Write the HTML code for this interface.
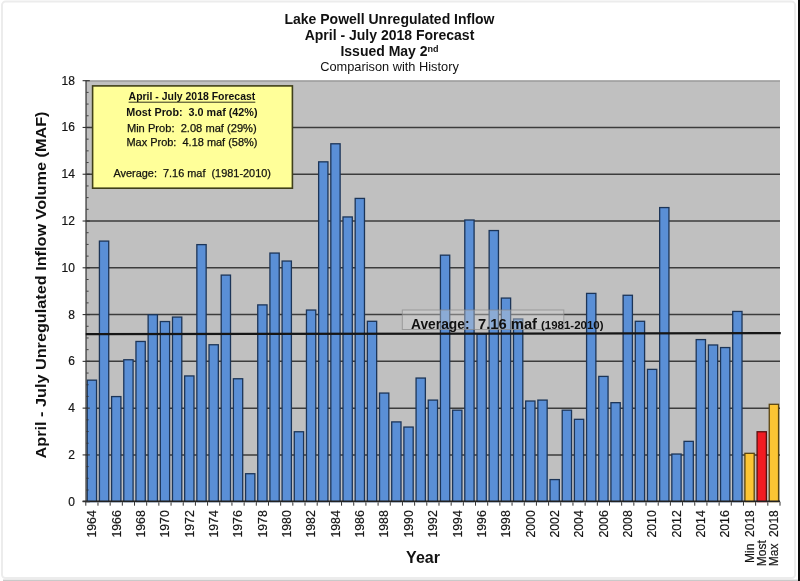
<!DOCTYPE html>
<html lang="en"><head><meta charset="utf-8"><title>Lake Powell Unregulated Inflow</title>
<style>
html,body{margin:0;padding:0;background:#fff;}
body{width:800px;height:581px;overflow:hidden;position:relative;font-family:"Liberation Sans",Arial,sans-serif;}
svg{display:block;position:absolute;left:-6px;top:-6px;filter:blur(0.45px);}
text{font-family:"Liberation Sans",Arial,sans-serif;fill:#111;}
.b{font-weight:bold;}
</style></head><body>
<svg width="812" height="593" viewBox="-6 -6 812 593">
<rect x="-6" y="-6" width="812" height="593" fill="#ffffff"/>
<!-- outer frame -->
<rect x="2" y="1.6" width="793.1" height="576.4" rx="3.5" ry="3.5" fill="none" stroke="#ececec" stroke-width="2"/>
<rect x="3" y="579.6" width="795" height="8" fill="#c9c9c9"/>
<rect x="798" y="-6" width="8" height="593" fill="#0a0a0a"/>

<rect x="85.30" y="80.1" width="694.70" height="421.60" fill="#c0c0c0"/>
<line x1="85.80" x2="780.00" y1="454.92" y2="454.92" stroke="#3c3c3c" stroke-width="1.5"/>
<line x1="85.80" x2="780.00" y1="408.14" y2="408.14" stroke="#3c3c3c" stroke-width="1.5"/>
<line x1="85.80" x2="780.00" y1="361.36" y2="361.36" stroke="#3c3c3c" stroke-width="1.5"/>
<line x1="85.80" x2="780.00" y1="314.58" y2="314.58" stroke="#3c3c3c" stroke-width="1.5"/>
<line x1="85.80" x2="780.00" y1="267.80" y2="267.80" stroke="#3c3c3c" stroke-width="1.5"/>
<line x1="85.80" x2="780.00" y1="221.02" y2="221.02" stroke="#3c3c3c" stroke-width="1.5"/>
<line x1="85.80" x2="780.00" y1="174.24" y2="174.24" stroke="#3c3c3c" stroke-width="1.5"/>
<line x1="85.80" x2="780.00" y1="127.46" y2="127.46" stroke="#3c3c3c" stroke-width="1.5"/>
<line x1="85.80" x2="780.00" y1="81.08" y2="81.08" stroke="#8a8a8a" stroke-width="0.9"/>
<g stroke="#1c3558" stroke-width="1.3">
<rect x="87.24" y="380.16" width="9.30" height="121.54" fill="#5a8fd6"/>
<rect x="99.42" y="241.10" width="9.30" height="260.60" fill="#5a8fd6"/>
<rect x="111.60" y="396.58" width="9.30" height="105.12" fill="#5a8fd6"/>
<rect x="123.78" y="359.76" width="9.30" height="141.94" fill="#5a8fd6"/>
<rect x="135.96" y="341.47" width="9.30" height="160.23" fill="#5a8fd6"/>
<rect x="148.13" y="314.73" width="9.30" height="186.97" fill="#5a8fd6"/>
<rect x="160.31" y="321.54" width="9.30" height="180.16" fill="#5a8fd6"/>
<rect x="172.49" y="317.08" width="9.30" height="184.62" fill="#5a8fd6"/>
<rect x="184.67" y="375.94" width="9.30" height="125.76" fill="#5a8fd6"/>
<rect x="196.85" y="244.62" width="9.30" height="257.08" fill="#5a8fd6"/>
<rect x="209.03" y="344.75" width="9.30" height="156.95" fill="#5a8fd6"/>
<rect x="221.21" y="275.10" width="9.30" height="226.60" fill="#5a8fd6"/>
<rect x="233.39" y="378.75" width="9.30" height="122.95" fill="#5a8fd6"/>
<rect x="245.57" y="473.72" width="9.30" height="27.98" fill="#5a8fd6"/>
<rect x="257.74" y="304.89" width="9.30" height="196.81" fill="#5a8fd6"/>
<rect x="269.92" y="253.06" width="9.30" height="248.64" fill="#5a8fd6"/>
<rect x="282.10" y="261.04" width="9.30" height="240.66" fill="#5a8fd6"/>
<rect x="294.28" y="431.75" width="9.30" height="69.95" fill="#5a8fd6"/>
<rect x="306.46" y="310.04" width="9.30" height="191.66" fill="#5a8fd6"/>
<rect x="318.64" y="161.84" width="9.30" height="339.86" fill="#5a8fd6"/>
<rect x="330.82" y="143.78" width="9.30" height="357.92" fill="#5a8fd6"/>
<rect x="343.00" y="216.95" width="9.30" height="284.75" fill="#5a8fd6"/>
<rect x="355.18" y="198.42" width="9.30" height="303.28" fill="#5a8fd6"/>
<rect x="367.36" y="321.30" width="9.30" height="180.40" fill="#5a8fd6"/>
<rect x="379.53" y="393.06" width="9.30" height="108.64" fill="#5a8fd6"/>
<rect x="391.71" y="421.90" width="9.30" height="79.80" fill="#5a8fd6"/>
<rect x="403.89" y="427.06" width="9.30" height="74.64" fill="#5a8fd6"/>
<rect x="416.07" y="378.05" width="9.30" height="123.65" fill="#5a8fd6"/>
<rect x="428.25" y="400.09" width="9.30" height="101.61" fill="#5a8fd6"/>
<rect x="440.43" y="255.17" width="9.30" height="246.53" fill="#5a8fd6"/>
<rect x="452.61" y="410.18" width="9.30" height="91.52" fill="#5a8fd6"/>
<rect x="464.79" y="220.00" width="9.30" height="281.70" fill="#5a8fd6"/>
<rect x="476.97" y="333.96" width="9.30" height="167.74" fill="#5a8fd6"/>
<rect x="489.14" y="230.55" width="9.30" height="271.15" fill="#5a8fd6"/>
<rect x="501.32" y="298.08" width="9.30" height="203.62" fill="#5a8fd6"/>
<rect x="513.50" y="318.96" width="9.30" height="182.74" fill="#5a8fd6"/>
<rect x="525.68" y="401.03" width="9.30" height="100.67" fill="#5a8fd6"/>
<rect x="537.86" y="400.09" width="9.30" height="101.61" fill="#5a8fd6"/>
<rect x="550.04" y="479.59" width="9.30" height="22.11" fill="#5a8fd6"/>
<rect x="562.22" y="410.18" width="9.30" height="91.52" fill="#5a8fd6"/>
<rect x="574.40" y="419.32" width="9.30" height="82.38" fill="#5a8fd6"/>
<rect x="586.58" y="293.40" width="9.30" height="208.30" fill="#5a8fd6"/>
<rect x="598.76" y="376.41" width="9.30" height="125.29" fill="#5a8fd6"/>
<rect x="610.93" y="402.67" width="9.30" height="99.03" fill="#5a8fd6"/>
<rect x="623.11" y="295.27" width="9.30" height="206.43" fill="#5a8fd6"/>
<rect x="635.29" y="321.30" width="9.30" height="180.40" fill="#5a8fd6"/>
<rect x="647.47" y="369.37" width="9.30" height="132.33" fill="#5a8fd6"/>
<rect x="659.65" y="207.57" width="9.30" height="294.13" fill="#5a8fd6"/>
<rect x="671.83" y="454.03" width="9.30" height="47.67" fill="#5a8fd6"/>
<rect x="684.01" y="441.36" width="9.30" height="60.34" fill="#5a8fd6"/>
<rect x="696.19" y="339.59" width="9.30" height="162.11" fill="#5a8fd6"/>
<rect x="708.37" y="344.98" width="9.30" height="156.72" fill="#5a8fd6"/>
<rect x="720.54" y="347.56" width="9.30" height="154.14" fill="#5a8fd6"/>
<rect x="732.72" y="311.45" width="9.30" height="190.25" fill="#5a8fd6"/>
<rect x="744.90" y="453.32" width="9.30" height="48.38" fill="#fcc534" stroke="#5a4410"/>
<rect x="757.08" y="431.75" width="9.30" height="69.95" fill="#f21b22" stroke="#5a1010"/>
<rect x="769.26" y="404.31" width="9.30" height="97.39" fill="#fcc534" stroke="#5a4410"/>
</g>
<line x1="86.10" x2="86.10" y1="80.68" y2="502.20" stroke="#4a4a4a" stroke-width="1.3"/>
<line x1="82.60" x2="780.00" y1="501.30" y2="501.30" stroke="#222" stroke-width="1.4"/>
<line x1="82.60" x2="89.80" y1="501.70" y2="501.70" stroke="#333" stroke-width="1.1"/>
<line x1="86.40" x2="88.60" y1="490.00" y2="490.00" stroke="#333" stroke-width="0.9"/>
<line x1="86.40" x2="88.60" y1="478.31" y2="478.31" stroke="#333" stroke-width="0.9"/>
<line x1="86.40" x2="88.60" y1="466.62" y2="466.62" stroke="#333" stroke-width="0.9"/>
<line x1="82.60" x2="89.80" y1="454.92" y2="454.92" stroke="#333" stroke-width="1.1"/>
<line x1="86.40" x2="88.60" y1="443.22" y2="443.22" stroke="#333" stroke-width="0.9"/>
<line x1="86.40" x2="88.60" y1="431.53" y2="431.53" stroke="#333" stroke-width="0.9"/>
<line x1="86.40" x2="88.60" y1="419.83" y2="419.83" stroke="#333" stroke-width="0.9"/>
<line x1="82.60" x2="89.80" y1="408.14" y2="408.14" stroke="#333" stroke-width="1.1"/>
<line x1="86.40" x2="88.60" y1="396.44" y2="396.44" stroke="#333" stroke-width="0.9"/>
<line x1="86.40" x2="88.60" y1="384.75" y2="384.75" stroke="#333" stroke-width="0.9"/>
<line x1="86.40" x2="88.60" y1="373.05" y2="373.05" stroke="#333" stroke-width="0.9"/>
<line x1="82.60" x2="89.80" y1="361.36" y2="361.36" stroke="#333" stroke-width="1.1"/>
<line x1="86.40" x2="88.60" y1="349.66" y2="349.66" stroke="#333" stroke-width="0.9"/>
<line x1="86.40" x2="88.60" y1="337.97" y2="337.97" stroke="#333" stroke-width="0.9"/>
<line x1="86.40" x2="88.60" y1="326.27" y2="326.27" stroke="#333" stroke-width="0.9"/>
<line x1="82.60" x2="89.80" y1="314.58" y2="314.58" stroke="#333" stroke-width="1.1"/>
<line x1="86.40" x2="88.60" y1="302.88" y2="302.88" stroke="#333" stroke-width="0.9"/>
<line x1="86.40" x2="88.60" y1="291.19" y2="291.19" stroke="#333" stroke-width="0.9"/>
<line x1="86.40" x2="88.60" y1="279.50" y2="279.50" stroke="#333" stroke-width="0.9"/>
<line x1="82.60" x2="89.80" y1="267.80" y2="267.80" stroke="#333" stroke-width="1.1"/>
<line x1="86.40" x2="88.60" y1="256.11" y2="256.11" stroke="#333" stroke-width="0.9"/>
<line x1="86.40" x2="88.60" y1="244.41" y2="244.41" stroke="#333" stroke-width="0.9"/>
<line x1="86.40" x2="88.60" y1="232.71" y2="232.71" stroke="#333" stroke-width="0.9"/>
<line x1="82.60" x2="89.80" y1="221.02" y2="221.02" stroke="#333" stroke-width="1.1"/>
<line x1="86.40" x2="88.60" y1="209.32" y2="209.32" stroke="#333" stroke-width="0.9"/>
<line x1="86.40" x2="88.60" y1="197.63" y2="197.63" stroke="#333" stroke-width="0.9"/>
<line x1="86.40" x2="88.60" y1="185.94" y2="185.94" stroke="#333" stroke-width="0.9"/>
<line x1="82.60" x2="89.80" y1="174.24" y2="174.24" stroke="#333" stroke-width="1.1"/>
<line x1="86.40" x2="88.60" y1="162.54" y2="162.54" stroke="#333" stroke-width="0.9"/>
<line x1="86.40" x2="88.60" y1="150.85" y2="150.85" stroke="#333" stroke-width="0.9"/>
<line x1="86.40" x2="88.60" y1="139.15" y2="139.15" stroke="#333" stroke-width="0.9"/>
<line x1="82.60" x2="89.80" y1="127.46" y2="127.46" stroke="#333" stroke-width="1.1"/>
<line x1="86.40" x2="88.60" y1="115.76" y2="115.76" stroke="#333" stroke-width="0.9"/>
<line x1="86.40" x2="88.60" y1="104.07" y2="104.07" stroke="#333" stroke-width="0.9"/>
<line x1="86.40" x2="88.60" y1="92.38" y2="92.38" stroke="#333" stroke-width="0.9"/>
<line x1="82.60" x2="89.80" y1="80.68" y2="80.68" stroke="#333" stroke-width="1.1"/>
<line x1="85.80" x2="85.80" y1="501.70" y2="505.70" stroke="#333" stroke-width="1"/>
<line x1="97.98" x2="97.98" y1="501.70" y2="505.70" stroke="#333" stroke-width="1"/>
<line x1="110.16" x2="110.16" y1="501.70" y2="505.70" stroke="#333" stroke-width="1"/>
<line x1="122.34" x2="122.34" y1="501.70" y2="505.70" stroke="#333" stroke-width="1"/>
<line x1="134.52" x2="134.52" y1="501.70" y2="505.70" stroke="#333" stroke-width="1"/>
<line x1="146.69" x2="146.69" y1="501.70" y2="505.70" stroke="#333" stroke-width="1"/>
<line x1="158.87" x2="158.87" y1="501.70" y2="505.70" stroke="#333" stroke-width="1"/>
<line x1="171.05" x2="171.05" y1="501.70" y2="505.70" stroke="#333" stroke-width="1"/>
<line x1="183.23" x2="183.23" y1="501.70" y2="505.70" stroke="#333" stroke-width="1"/>
<line x1="195.41" x2="195.41" y1="501.70" y2="505.70" stroke="#333" stroke-width="1"/>
<line x1="207.59" x2="207.59" y1="501.70" y2="505.70" stroke="#333" stroke-width="1"/>
<line x1="219.77" x2="219.77" y1="501.70" y2="505.70" stroke="#333" stroke-width="1"/>
<line x1="231.95" x2="231.95" y1="501.70" y2="505.70" stroke="#333" stroke-width="1"/>
<line x1="244.13" x2="244.13" y1="501.70" y2="505.70" stroke="#333" stroke-width="1"/>
<line x1="256.31" x2="256.31" y1="501.70" y2="505.70" stroke="#333" stroke-width="1"/>
<line x1="268.48" x2="268.48" y1="501.70" y2="505.70" stroke="#333" stroke-width="1"/>
<line x1="280.66" x2="280.66" y1="501.70" y2="505.70" stroke="#333" stroke-width="1"/>
<line x1="292.84" x2="292.84" y1="501.70" y2="505.70" stroke="#333" stroke-width="1"/>
<line x1="305.02" x2="305.02" y1="501.70" y2="505.70" stroke="#333" stroke-width="1"/>
<line x1="317.20" x2="317.20" y1="501.70" y2="505.70" stroke="#333" stroke-width="1"/>
<line x1="329.38" x2="329.38" y1="501.70" y2="505.70" stroke="#333" stroke-width="1"/>
<line x1="341.56" x2="341.56" y1="501.70" y2="505.70" stroke="#333" stroke-width="1"/>
<line x1="353.74" x2="353.74" y1="501.70" y2="505.70" stroke="#333" stroke-width="1"/>
<line x1="365.92" x2="365.92" y1="501.70" y2="505.70" stroke="#333" stroke-width="1"/>
<line x1="378.09" x2="378.09" y1="501.70" y2="505.70" stroke="#333" stroke-width="1"/>
<line x1="390.27" x2="390.27" y1="501.70" y2="505.70" stroke="#333" stroke-width="1"/>
<line x1="402.45" x2="402.45" y1="501.70" y2="505.70" stroke="#333" stroke-width="1"/>
<line x1="414.63" x2="414.63" y1="501.70" y2="505.70" stroke="#333" stroke-width="1"/>
<line x1="426.81" x2="426.81" y1="501.70" y2="505.70" stroke="#333" stroke-width="1"/>
<line x1="438.99" x2="438.99" y1="501.70" y2="505.70" stroke="#333" stroke-width="1"/>
<line x1="451.17" x2="451.17" y1="501.70" y2="505.70" stroke="#333" stroke-width="1"/>
<line x1="463.35" x2="463.35" y1="501.70" y2="505.70" stroke="#333" stroke-width="1"/>
<line x1="475.53" x2="475.53" y1="501.70" y2="505.70" stroke="#333" stroke-width="1"/>
<line x1="487.71" x2="487.71" y1="501.70" y2="505.70" stroke="#333" stroke-width="1"/>
<line x1="499.88" x2="499.88" y1="501.70" y2="505.70" stroke="#333" stroke-width="1"/>
<line x1="512.06" x2="512.06" y1="501.70" y2="505.70" stroke="#333" stroke-width="1"/>
<line x1="524.24" x2="524.24" y1="501.70" y2="505.70" stroke="#333" stroke-width="1"/>
<line x1="536.42" x2="536.42" y1="501.70" y2="505.70" stroke="#333" stroke-width="1"/>
<line x1="548.60" x2="548.60" y1="501.70" y2="505.70" stroke="#333" stroke-width="1"/>
<line x1="560.78" x2="560.78" y1="501.70" y2="505.70" stroke="#333" stroke-width="1"/>
<line x1="572.96" x2="572.96" y1="501.70" y2="505.70" stroke="#333" stroke-width="1"/>
<line x1="585.14" x2="585.14" y1="501.70" y2="505.70" stroke="#333" stroke-width="1"/>
<line x1="597.32" x2="597.32" y1="501.70" y2="505.70" stroke="#333" stroke-width="1"/>
<line x1="609.49" x2="609.49" y1="501.70" y2="505.70" stroke="#333" stroke-width="1"/>
<line x1="621.67" x2="621.67" y1="501.70" y2="505.70" stroke="#333" stroke-width="1"/>
<line x1="633.85" x2="633.85" y1="501.70" y2="505.70" stroke="#333" stroke-width="1"/>
<line x1="646.03" x2="646.03" y1="501.70" y2="505.70" stroke="#333" stroke-width="1"/>
<line x1="658.21" x2="658.21" y1="501.70" y2="505.70" stroke="#333" stroke-width="1"/>
<line x1="670.39" x2="670.39" y1="501.70" y2="505.70" stroke="#333" stroke-width="1"/>
<line x1="682.57" x2="682.57" y1="501.70" y2="505.70" stroke="#333" stroke-width="1"/>
<line x1="694.75" x2="694.75" y1="501.70" y2="505.70" stroke="#333" stroke-width="1"/>
<line x1="706.93" x2="706.93" y1="501.70" y2="505.70" stroke="#333" stroke-width="1"/>
<line x1="719.11" x2="719.11" y1="501.70" y2="505.70" stroke="#333" stroke-width="1"/>
<line x1="731.28" x2="731.28" y1="501.70" y2="505.70" stroke="#333" stroke-width="1"/>
<line x1="743.46" x2="743.46" y1="501.70" y2="505.70" stroke="#333" stroke-width="1"/>
<line x1="755.64" x2="755.64" y1="501.70" y2="505.70" stroke="#333" stroke-width="1"/>
<line x1="767.82" x2="767.82" y1="501.70" y2="505.70" stroke="#333" stroke-width="1"/>
<line x1="780.00" x2="780.00" y1="501.70" y2="505.70" stroke="#333" stroke-width="1"/>
<text x="74.9" y="505.70" font-size="12" text-anchor="end" fill="#222" stroke="#222" stroke-width="0.2">0</text>
<text x="74.9" y="458.92" font-size="12" text-anchor="end" fill="#222" stroke="#222" stroke-width="0.2">2</text>
<text x="74.9" y="412.14" font-size="12" text-anchor="end" fill="#222" stroke="#222" stroke-width="0.2">4</text>
<text x="74.9" y="365.36" font-size="12" text-anchor="end" fill="#222" stroke="#222" stroke-width="0.2">6</text>
<text x="74.9" y="318.58" font-size="12" text-anchor="end" fill="#222" stroke="#222" stroke-width="0.2">8</text>
<text x="74.9" y="271.80" font-size="12" text-anchor="end" fill="#222" stroke="#222" stroke-width="0.2">10</text>
<text x="74.9" y="225.02" font-size="12" text-anchor="end" fill="#222" stroke="#222" stroke-width="0.2">12</text>
<text x="74.9" y="178.24" font-size="12" text-anchor="end" fill="#222" stroke="#222" stroke-width="0.2">14</text>
<text x="74.9" y="131.46" font-size="12" text-anchor="end" fill="#222" stroke="#222" stroke-width="0.2">16</text>
<text x="74.9" y="84.68" font-size="12" text-anchor="end" fill="#222" stroke="#222" stroke-width="0.2">18</text>
<text transform="translate(96.19,510.2) rotate(-90)" font-size="12.3" text-anchor="end" fill="#222" stroke="#222" stroke-width="0.2" xml:space="preserve">1964</text>
<text transform="translate(120.55,510.2) rotate(-90)" font-size="12.3" text-anchor="end" fill="#222" stroke="#222" stroke-width="0.2" xml:space="preserve">1966</text>
<text transform="translate(144.91,510.2) rotate(-90)" font-size="12.3" text-anchor="end" fill="#222" stroke="#222" stroke-width="0.2" xml:space="preserve">1968</text>
<text transform="translate(169.26,510.2) rotate(-90)" font-size="12.3" text-anchor="end" fill="#222" stroke="#222" stroke-width="0.2" xml:space="preserve">1970</text>
<text transform="translate(193.62,510.2) rotate(-90)" font-size="12.3" text-anchor="end" fill="#222" stroke="#222" stroke-width="0.2" xml:space="preserve">1972</text>
<text transform="translate(217.98,510.2) rotate(-90)" font-size="12.3" text-anchor="end" fill="#222" stroke="#222" stroke-width="0.2" xml:space="preserve">1974</text>
<text transform="translate(242.34,510.2) rotate(-90)" font-size="12.3" text-anchor="end" fill="#222" stroke="#222" stroke-width="0.2" xml:space="preserve">1976</text>
<text transform="translate(266.69,510.2) rotate(-90)" font-size="12.3" text-anchor="end" fill="#222" stroke="#222" stroke-width="0.2" xml:space="preserve">1978</text>
<text transform="translate(291.05,510.2) rotate(-90)" font-size="12.3" text-anchor="end" fill="#222" stroke="#222" stroke-width="0.2" xml:space="preserve">1980</text>
<text transform="translate(315.41,510.2) rotate(-90)" font-size="12.3" text-anchor="end" fill="#222" stroke="#222" stroke-width="0.2" xml:space="preserve">1982</text>
<text transform="translate(339.77,510.2) rotate(-90)" font-size="12.3" text-anchor="end" fill="#222" stroke="#222" stroke-width="0.2" xml:space="preserve">1984</text>
<text transform="translate(364.13,510.2) rotate(-90)" font-size="12.3" text-anchor="end" fill="#222" stroke="#222" stroke-width="0.2" xml:space="preserve">1986</text>
<text transform="translate(388.48,510.2) rotate(-90)" font-size="12.3" text-anchor="end" fill="#222" stroke="#222" stroke-width="0.2" xml:space="preserve">1988</text>
<text transform="translate(412.84,510.2) rotate(-90)" font-size="12.3" text-anchor="end" fill="#222" stroke="#222" stroke-width="0.2" xml:space="preserve">1990</text>
<text transform="translate(437.20,510.2) rotate(-90)" font-size="12.3" text-anchor="end" fill="#222" stroke="#222" stroke-width="0.2" xml:space="preserve">1992</text>
<text transform="translate(461.56,510.2) rotate(-90)" font-size="12.3" text-anchor="end" fill="#222" stroke="#222" stroke-width="0.2" xml:space="preserve">1994</text>
<text transform="translate(485.92,510.2) rotate(-90)" font-size="12.3" text-anchor="end" fill="#222" stroke="#222" stroke-width="0.2" xml:space="preserve">1996</text>
<text transform="translate(510.27,510.2) rotate(-90)" font-size="12.3" text-anchor="end" fill="#222" stroke="#222" stroke-width="0.2" xml:space="preserve">1998</text>
<text transform="translate(534.63,510.2) rotate(-90)" font-size="12.3" text-anchor="end" fill="#222" stroke="#222" stroke-width="0.2" xml:space="preserve">2000</text>
<text transform="translate(558.99,510.2) rotate(-90)" font-size="12.3" text-anchor="end" fill="#222" stroke="#222" stroke-width="0.2" xml:space="preserve">2002</text>
<text transform="translate(583.35,510.2) rotate(-90)" font-size="12.3" text-anchor="end" fill="#222" stroke="#222" stroke-width="0.2" xml:space="preserve">2004</text>
<text transform="translate(607.71,510.2) rotate(-90)" font-size="12.3" text-anchor="end" fill="#222" stroke="#222" stroke-width="0.2" xml:space="preserve">2006</text>
<text transform="translate(632.06,510.2) rotate(-90)" font-size="12.3" text-anchor="end" fill="#222" stroke="#222" stroke-width="0.2" xml:space="preserve">2008</text>
<text transform="translate(656.42,510.2) rotate(-90)" font-size="12.3" text-anchor="end" fill="#222" stroke="#222" stroke-width="0.2" xml:space="preserve">2010</text>
<text transform="translate(680.78,510.2) rotate(-90)" font-size="12.3" text-anchor="end" fill="#222" stroke="#222" stroke-width="0.2" xml:space="preserve">2012</text>
<text transform="translate(705.14,510.2) rotate(-90)" font-size="12.3" text-anchor="end" fill="#222" stroke="#222" stroke-width="0.2" xml:space="preserve">2014</text>
<text transform="translate(729.49,510.2) rotate(-90)" font-size="12.3" text-anchor="end" fill="#222" stroke="#222" stroke-width="0.2" xml:space="preserve">2016</text>
<text transform="translate(753.85,510.2) rotate(-90)" font-size="12" text-anchor="end" fill="#222" stroke="#222" stroke-width="0.2" xml:space="preserve">Min  2018</text>
<text transform="translate(766.03,566.2) rotate(-90)" font-size="12" text-anchor="start" fill="#222" stroke="#222" stroke-width="0.2">Most</text>
<text transform="translate(778.21,510.2) rotate(-90)" font-size="12" text-anchor="end" fill="#222" stroke="#222" stroke-width="0.2" xml:space="preserve">Max  2018</text>
<line x1="85.80" x2="780.8" y1="334.2" y2="333.1" stroke="#161616" stroke-width="2.2"/>
<rect x="402.3" y="310" width="161.5" height="19.5" fill="#d4d4d4" fill-opacity="0.4" stroke="#8a8a8a" stroke-opacity="0.7" stroke-width="1"/>
<text x="411" y="328.6" font-size="14.6" class="b" fill="#111" textLength="58.5" lengthAdjust="spacingAndGlyphs">Average:</text>
<text x="478" y="328.6" font-size="14.6" class="b" fill="#111" textLength="59" lengthAdjust="spacingAndGlyphs">7.16 maf</text>
<text x="541" y="328.6" font-size="11" class="b" fill="#111" textLength="62.5" lengthAdjust="spacingAndGlyphs">(1981-2010)</text>
<rect x="92.6" y="85.9" width="199.8" height="102.3" fill="#ffff99" stroke="#3f3f1a" stroke-width="1.6"/>
<text x="128.6" y="100.0" font-size="10.6" class="b" fill="#15150c" textLength="126.7" lengthAdjust="spacingAndGlyphs" xml:space="preserve">April - July 2018 Forecast</text>
<line x1="128.6" x2="255.3" y1="102.2" y2="102.2" stroke="#1a1a10" stroke-width="0.9"/>
<text x="126.3" y="115.8" font-size="10.6" class="b" fill="#15150c" textLength="131.2" lengthAdjust="spacingAndGlyphs" xml:space="preserve">Most Prob:  3.0 maf (42%)</text>
<text x="126.9" y="131.6" font-size="10.6" stroke="#15150c" stroke-width="0.25" fill="#15150c" textLength="129.8" lengthAdjust="spacingAndGlyphs" xml:space="preserve">Min Prob:  2.08 maf (29%)</text>
<text x="126.4" y="146.3" font-size="10.6" stroke="#15150c" stroke-width="0.25" fill="#15150c" textLength="131.1" lengthAdjust="spacingAndGlyphs" xml:space="preserve">Max Prob:  4.18 maf (58%)</text>
<text x="113.5" y="176.5" font-size="10.6" stroke="#15150c" stroke-width="0.25" fill="#15150c" textLength="157.4" lengthAdjust="spacingAndGlyphs" xml:space="preserve">Average:  7.16 maf  (1981-2010)</text>
<text x="389.5" y="23.9" font-size="14" class="b" text-anchor="middle" fill="#111">Lake Powell Unregulated Inflow</text>
<text x="389.5" y="39.8" font-size="14" class="b" text-anchor="middle" fill="#111">April - July 2018 Forecast</text>
<text x="389.5" y="56.2" font-size="14" class="b" text-anchor="middle" fill="#111">Issued May 2<tspan font-size="9" dy="-4.5">nd</tspan></text>
<text x="389.5" y="71" font-size="12.8" text-anchor="middle" fill="#222">Comparison with History</text>
<text transform="translate(46.4,285) rotate(-90) scale(1.062,1)" font-size="15.3" class="b" text-anchor="middle" fill="#111">April - July Unregulated Inflow Volume (MAF)</text>
<text x="423" y="562.8" font-size="16" class="b" text-anchor="middle" fill="#111">Year</text>
</svg></body></html>
